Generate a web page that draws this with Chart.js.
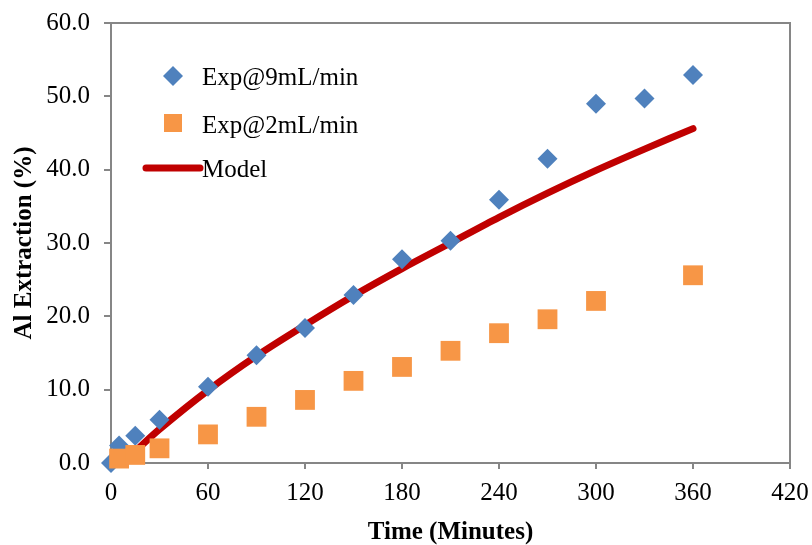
<html>
<head>
<style>
  body { margin: 0; background: #fff; }
  #wrap { width: 812px; height: 545px; }
</style>
</head>
<body>
<div id="wrap"><canvas id="myChart" width="812" height="545"></canvas></div>
<script src="https://cdn.jsdelivr.net/npm/chart.js@4/dist/chart.umd.min.js"></script>
<script>
// extraction data, time in minutes, extraction in %
var time9 = [0, 5, 15, 30, 60, 90, 120, 150, 180, 210, 240, 270, 300, 330, 360];
var exp9 = [0, 2.4, 3.7, 5.9, 10.4, 14.7, 18.4, 22.9, 27.8, 30.3, 35.9, 41.5, 49.0, 49.7, 52.9];

var time2 = [5, 15, 30, 60, 90, 120, 150, 180, 210, 240, 270, 300, 360];
var exp2 = [0.6, 1.1, 2.0, 3.9, 6.3, 8.6, 11.2, 13.1, 15.3, 17.7, 19.6, 22.1, 25.6];

var timeModel = [15, 30, 60, 90, 120, 150, 180, 210, 240, 270, 300, 330, 360];
var model = [1.6, 4.6, 9.9, 14.6, 18.8, 22.8, 26.5, 30.0, 33.5, 36.8, 39.9, 42.8, 45.6];

var seriesNames = ['Exp@9mL/min', 'Exp@2mL/min', 'Model'];
var xTicks = [0, 60, 120, 180, 240, 300, 360, 420];
var yTicks = [0, 10, 20, 30, 40, 50, 60];

var BLUE = '#4F81BD', ORANGE = '#F79646', RED = '#C00000', AXIS = '#868686';
var FONT = '"Liberation Serif", "Times New Roman", serif';
var FS = 25;

function toPoints(xs, ys) {
    var pts = [];
    for (var i = 0; i < xs.length; i++) {
        pts.push({x: xs[i], y: ys[i]});
    }
    return pts;
}

// grey frame round the plot area
var plotFrame = {
    id: 'plotFrame',
    beforeDatasetsDraw: function(chart) {
        var a = chart.chartArea, ctx = chart.ctx;
        ctx.save();
        ctx.strokeStyle = AXIS;
        ctx.lineWidth = 2;
        ctx.strokeRect(a.left, a.top, a.right - a.left, a.bottom - a.top);
        ctx.restore();
    }
};

// legend sits inside the plot, top left
var innerLegend = {
    id: 'innerLegend',
    afterDraw: function(chart) {
        var ctx = chart.ctx;
        ctx.save();

        // diamond
        ctx.fillStyle = BLUE;
        ctx.beginPath();
        ctx.moveTo(173, 66); ctx.lineTo(183, 76); ctx.lineTo(173, 86); ctx.lineTo(163, 76);
        ctx.closePath();
        ctx.fill();
        // square
        ctx.fillStyle = ORANGE;
        ctx.fillRect(164, 114, 18, 18);
        // line
        ctx.strokeStyle = RED;
        ctx.lineWidth = 7;
        ctx.lineCap = 'round';
        ctx.beginPath();
        ctx.moveTo(146, 168); ctx.lineTo(200, 168);
        ctx.stroke();

        ctx.font = FS + 'px ' + FONT;
        ctx.fillStyle = '#000';
        ctx.textBaseline = 'middle';
        ctx.textAlign = 'left';
        ctx.fillText(seriesNames[0], 202, 78);
        ctx.fillText(seriesNames[1], 202, 126);
        ctx.fillText(seriesNames[2], 202, 170);
        ctx.restore();
    }
};

var ctx = document.getElementById('myChart').getContext('2d');
var chart = new Chart(ctx, {
    type: 'scatter',
    data: {
        datasets: [
            {
                label: seriesNames[1],
                data: toPoints(time2, exp2),
                pointStyle: 'rect',
                pointRadius: 14,
                pointHoverRadius: 14,
                backgroundColor: ORANGE,
                borderColor: ORANGE,
                borderWidth: 0,
                clip: false,
                order: 0
            },
            {
                label: seriesNames[0],
                data: toPoints(time9, exp9),
                pointStyle: 'rectRot',
                pointRadius: 10,
                pointHoverRadius: 10,
                backgroundColor: BLUE,
                borderColor: BLUE,
                borderWidth: 0,
                clip: false,
                order: 1
            },
            {
                label: seriesNames[2],
                data: toPoints(timeModel, model),
                showLine: true,
                pointRadius: 0,
                borderColor: RED,
                borderWidth: 7,
                borderCapStyle: 'round',
                tension: 0.3,
                order: 2
            }
        ]
    },
    options: {
        responsive: false,
        animation: false,
        layout: { padding: { top: 23, right: 22, left: 0, bottom: 0 } },
        plugins: {
            legend: { display: false },
            tooltip: { enabled: false }
        },
        scales: {
            x: {
                type: 'linear',
                min: 0,
                max: 420,
                afterBuildTicks: function(scale) {
                    scale.ticks = xTicks.map(function(v) { return {value: v}; });
                },
                afterFit: function(scale) {
                    scale.height = 82;
                    scale.paddingLeft = 0;
                    scale.paddingRight = 0;
                },
                border: { color: AXIS, width: 2 },
                grid: { drawOnChartArea: false, drawTicks: true, tickLength: 6, color: AXIS, lineWidth: 2 },
                ticks: { color: '#000', font: { family: FONT, size: FS }, padding: 9, maxRotation: 0 },
                title: {
                    display: true,
                    text: 'Time (Minutes)',
                    color: '#000',
                    font: { family: FONT, size: FS, weight: 'bold' },
                    padding: { top: 4, bottom: -3 }
                }
            },
            y: {
                type: 'linear',
                min: 0,
                max: 60,
                afterBuildTicks: function(scale) {
                    scale.ticks = yTicks.map(function(v) { return {value: v}; });
                },
                afterFit: function(scale) {
                    scale.width = 111;
                    scale.paddingTop = 0;
                    scale.paddingBottom = 0;
                },
                border: { color: AXIS, width: 2 },
                grid: { drawOnChartArea: false, drawTicks: true, tickLength: 7, color: AXIS, lineWidth: 2 },
                ticks: {
                    color: '#000',
                    font: { family: FONT, size: FS },
                    padding: 14,
                    callback: function(v) { return v.toFixed(1); }
                },
                title: {
                    display: true,
                    text: 'Al Extraction (%)',
                    color: '#000',
                    font: { family: FONT, size: FS, weight: 'bold' },
                    padding: { top: 10, bottom: 0 }
                }
            }
        }
    },
    plugins: [plotFrame, innerLegend]
});
</script>
</body>
</html>
